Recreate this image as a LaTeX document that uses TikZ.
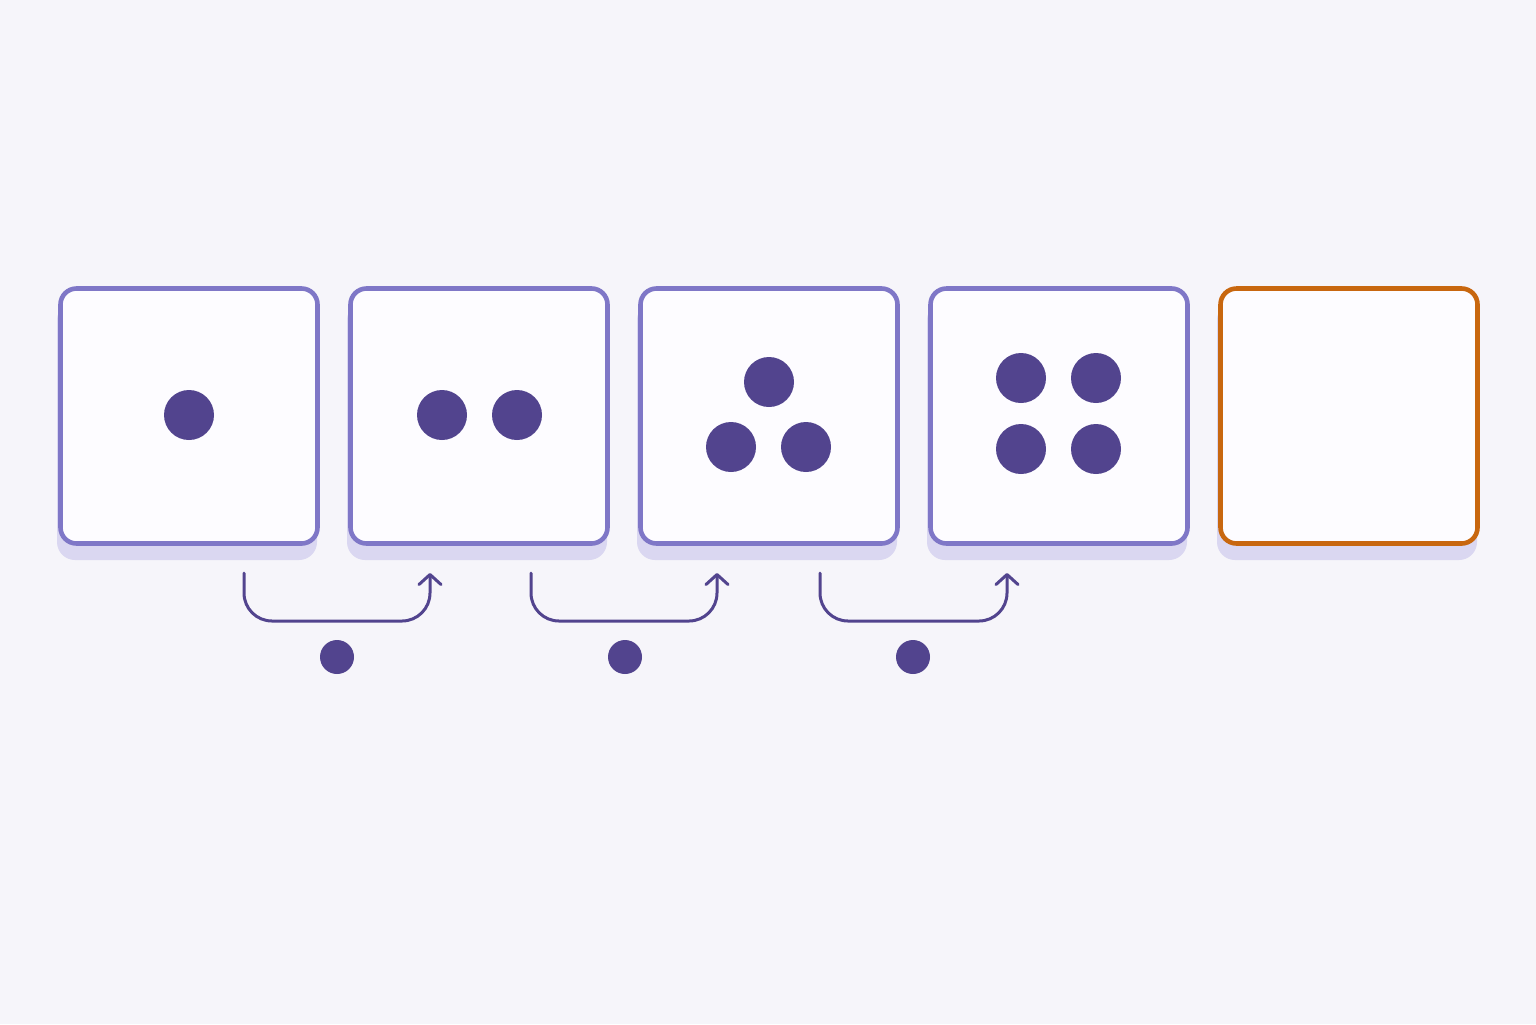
\documentclass[tikz,border=0pt]{standalone}
\usetikzlibrary{arrows.meta,calc}
\definecolor{bgc}{HTML}{F6F5FA}
\definecolor{boxfill}{HTML}{FDFCFF}
\definecolor{boxline}{HTML}{7F77C7}
\definecolor{shadowc}{HTML}{DAD7F1}
\definecolor{dotc}{HTML}{52448E}
\definecolor{orangec}{HTML}{C8670F}
\tikzset{
  tile/.style={draw=boxline, line width=2.3pt, fill=boxfill, rounded corners=8pt,
    minimum width=128.5pt, minimum height=127.5pt, inner sep=0pt},
  tileshadow/.style={fill=shadowc, rounded corners=9pt,
    minimum width=130pt, minimum height=129pt, inner sep=0pt, draw=none},
  pip/.style={circle, fill=dotc, draw=none, minimum size=25pt, inner sep=0pt},
  smallpip/.style={circle, fill=dotc, draw=none, minimum size=17pt, inner sep=0pt},
  conn/.style={draw=dotc, line width=1.5pt, line cap=round, rounded corners=14pt,
    -{Straight Barb[round, length=5pt, width=11pt]}}
}
\begin{document}
\begin{tikzpicture}[x=0.5pt,y=-0.5pt]
\fill[bgc] (0,0) rectangle (1536,1024);
\useasboundingbox (0,0) rectangle (1536,1024);
% shadows
\foreach \cx/\nm in {189/s1,479/s2,769/s3,1059/s4,1349/s5}{
  \node[tileshadow] (\nm) at (\cx-2,431) {};
}
% tiles
\node[tile] (b1) at (189,416) {};
\node[tile] (b2) at (479,416) {};
\node[tile] (b3) at (769,416) {};
\node[tile] (b4) at (1059,416) {};
\node[tile, draw=orangec] (b5) at (1349,416) {};
% pips
\node[pip] (p11) at (189,415) {};
\node[pip] (p21) at (442,415) {};
\node[pip] (p22) at (517,415) {};
\node[pip] (p31) at (769,382) {};
\node[pip] (p32) at (731,447) {};
\node[pip] (p33) at (806,447) {};
\node[pip] (p41) at (1021,378) {};
\node[pip] (p42) at (1096,378) {};
\node[pip] (p43) at (1021,449) {};
\node[pip] (p44) at (1096,449) {};
% connector ends
\coordinate (a1) at (244,573);
\coordinate (e1) at (430,573);
\coordinate (a2) at (531,573);
\coordinate (e2) at (717,573);
\coordinate (a3) at (820,573);
\coordinate (e3) at (1007,573);
\draw[conn] (a1) |- ($(e1)+(0,48)$) -- (e1);
\draw[conn] (a2) |- ($(e2)+(0,48)$) -- (e2);
\draw[conn] (a3) |- ($(e3)+(0,48)$) -- (e3);
% small pips
\node[smallpip] (q1) at (337,657) {};
\node[smallpip] (q2) at (625,657) {};
\node[smallpip] (q3) at (913,657) {};
\end{tikzpicture}
\end{document}
